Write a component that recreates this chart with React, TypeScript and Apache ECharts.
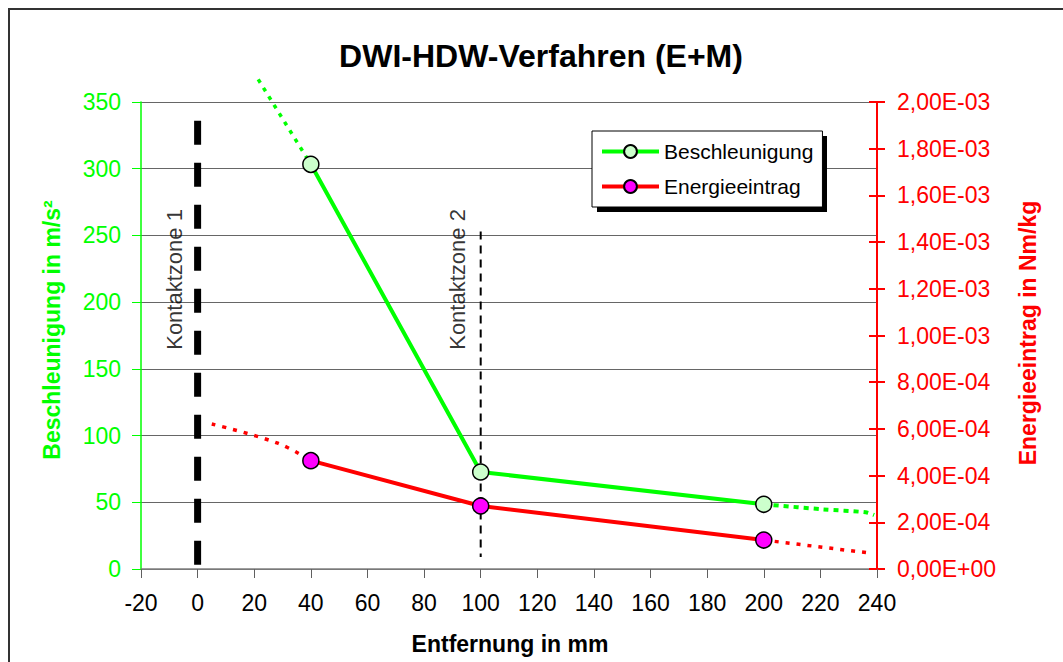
import React, { useEffect, useRef } from "react";
import * as echarts from "echarts";

const FONT = "'Liberation Sans', Arial, sans-serif";
const GREEN = "#00ff00";
const RED = "#ff0000";

// Messpunkte
const distance = [40, 100, 200];
const beschleunigung = [303.3, 72.7, 48.5];
const energieeintrag = [4.64e-4, 2.7e-4, 1.24e-4];

// Trendlinien (gepunktet)
const beschlTrendLeft: [number, number][] = [[21.4, 367], [40, 303.3]];
const beschlTrendRight: [number, number][] = [[200, 48.5], [221, 44.7], [236, 42.5], [239, 40.5]];
const energieTrendLeft: [number, number][] = [[5, 6.21e-4], [28, 5.4e-4], [40, 4.64e-4]];
const energieTrendRight: [number, number][] = [[200, 1.24e-4], [237, 0.69e-4]];

// Kontaktzonen
const kontaktzone1Line: [number, number][] = [[0, 336], [0, 0]];
const kontaktzone2Line: [number, number][] = [[100, 253], [100, 9]];
const kontaktLabels: [number, number, string][] = [[-8, 217, "Kontaktzone 1"], [91.7, 217, "Kontaktzone 2"]];

// Achsen
const xMin = -20, xMax = 240, xStep = 20;
const yMin = 0, yMax = 350, yStep = 50;
const y2Min = 0, y2Max = 0.002, y2Step = 0.0002;

const title = "DWI-HDW-Verfahren (E+M)";
const xTitle = "Entfernung in mm";
const yTitle = "Beschleunigung in m/s²";
const y2Title = "Energieeintrag in Nm/kg";

function fmtExp(v: number) {
  const s = Math.abs(v) < 1e-12 ? "0.00e+0" : v.toExponential(2);
  const [m, e] = s.split("e");
  const sign = e[0] === "-" ? "-" : "+";
  const num = e.replace(/^[+-]/, "").padStart(2, "0");
  return m.replace(".", ",") + "E" + sign + num;
}

export default function App() {
  const ref = useRef<HTMLDivElement>(null);
  useEffect(() => {
    if (!ref.current) return;
    const chart = echarts.init(ref.current, null, { renderer: "svg" });
    const tickFont = { fontFamily: FONT, fontSize: 23 };
    chart.setOption({
      animation: false,
      backgroundColor: "#fff",
      textStyle: { fontFamily: FONT },
      grid: { left: 141, right: 186, top: 102, bottom: 93, containLabel: false },
      legend: {
        data: ["Beschleunigung", "Energieeintrag"],
        orient: "vertical",
        left: 592,
        top: 131,
        itemWidth: 57,
        itemHeight: 16,
        itemGap: 14,
        padding: [10, 9, 10, 8],
        backgroundColor: "#fff",
        borderColor: "#000",
        borderWidth: 1,
        borderRadius: 0,
        lineStyle: { width: 4 },
        textStyle: { fontFamily: FONT, fontSize: 21, color: "#000" },
        z: 5,
      },
      xAxis: {
        type: "value",
        min: xMin,
        max: xMax,
        interval: xStep,
        axisLine: { show: true, onZero: false, lineStyle: { color: "#808080", width: 1.5 } },
        axisTick: { show: true, inside: false, length: 9, lineStyle: { color: "#606060" } },
        axisLabel: { ...tickFont, color: "#000", margin: 22 },
        splitLine: { show: false },
      },
      yAxis: [
        {
          type: "value",
          position: "left",
          min: yMin,
          max: yMax,
          interval: yStep,
          axisLine: { show: true, onZero: false, lineStyle: { color: GREEN, width: 1.5 } },
          axisTick: { show: true, inside: false, length: 9, lineStyle: { color: GREEN } },
          axisLabel: { ...tickFont, color: GREEN, margin: 20 },
          splitLine: { show: true, lineStyle: { color: "#666", width: 1.2 } },
        },
        {
          type: "value",
          position: "right",
          min: y2Min,
          max: y2Max,
          interval: y2Step,
          axisLine: { show: true, onZero: false, lineStyle: { color: RED, width: 2 } },
          axisTick: { show: true, inside: false, length: 8, lineStyle: { color: RED, width: 2 } },
          axisLabel: { ...tickFont, color: RED, margin: 20, formatter: (v: number) => fmtExp(v) },
          splitLine: { show: false },
        },
        {
          type: "value",
          position: "right",
          min: y2Min,
          max: y2Max,
          interval: y2Step,
          axisLine: { show: false, onZero: false },
          axisTick: { show: true, inside: true, length: 8, lineStyle: { color: RED, width: 2 } },
          axisLabel: { show: false },
          splitLine: { show: false },
        },
      ],
      series: [
        {
          name: "kz1",
          type: "line",
          data: kontaktzone1Line,
          symbol: "none",
          lineStyle: { color: "#000", width: 7, type: [24, 18] },
          z: 1,
        },
        {
          name: "kz2",
          type: "line",
          data: kontaktzone2Line,
          symbol: "none",
          lineStyle: { color: "#000", width: 2, type: [8, 6] },
          z: 1,
        },
        {
          name: "kzLabels",
          type: "scatter",
          data: kontaktLabels,
          symbolSize: 0,
          label: {
            show: true,
            position: "inside",
            rotate: 90,
            formatter: (p: any) => p.data[2],
            fontFamily: FONT,
            fontSize: 22,
            color: "#000",
          },
          z: 1,
        },
        {
          name: "bTrendL",
          type: "line",
          data: beschlTrendLeft,
          symbol: "none",
          clip: false,
          lineStyle: { color: GREEN, width: 3.5, type: [4, 6] },
          z: 2,
        },
        {
          name: "bTrendR",
          type: "line",
          data: beschlTrendRight,
          symbol: "none",
          smooth: 0.3,
          lineStyle: { color: GREEN, width: 4, type: [5, 5] },
          z: 2,
        },
        {
          name: "eTrendL",
          type: "line",
          yAxisIndex: 1,
          data: energieTrendLeft,
          symbol: "none",
          smooth: 0.4,
          lineStyle: { color: RED, width: 3.5, type: [4, 7] },
          z: 2,
        },
        {
          name: "eTrendR",
          type: "line",
          yAxisIndex: 1,
          data: energieTrendRight,
          symbol: "none",
          lineStyle: { color: RED, width: 3.5, type: [4, 7] },
          z: 2,
        },
        {
          name: "Beschleunigung",
          type: "line",
          data: distance.map((d, i) => [d, beschleunigung[i]]),
          symbol: "circle",
          symbolSize: 16,
          lineStyle: { color: GREEN, width: 4 },
          itemStyle: { color: "#ccffcc", borderColor: "#000", borderWidth: 1.5 },
          z: 3,
        },
        {
          name: "Energieeintrag",
          type: "line",
          yAxisIndex: 1,
          data: distance.map((d, i) => [d, energieeintrag[i]]),
          symbol: "circle",
          symbolSize: 16,
          lineStyle: { color: RED, width: 4 },
          itemStyle: { color: "#ff00ff", borderColor: "#000", borderWidth: 1.5 },
          z: 3,
        },
      ],
      graphic: [
        {
          type: "rect",
          shape: { x: 9, y: 9, width: 1100, height: 700 },
          style: { fill: "none", stroke: "#333", lineWidth: 2 },
          z: 0,
          silent: true,
        },
        {
          type: "rect",
          shape: { x: 597, y: 136, width: 230, height: 76 },
          style: { fill: "#000" },
          z: 4,
          silent: true,
        },
        {
          type: "text",
          x: 541,
          y: 56,
          style: {
            text: title,
            fontFamily: FONT,
            fontSize: 32,
            fontWeight: "bold",
            fill: "#000",
            align: "center",
            verticalAlign: "middle",
          },
        },
        {
          type: "text",
          x: 510,
          y: 644,
          style: {
            text: xTitle,
            fontFamily: FONT,
            fontSize: 23,
            fontWeight: "bold",
            fill: "#000",
            align: "center",
            verticalAlign: "middle",
          },
        },
        {
          type: "text",
          x: 52,
          y: 330,
          rotation: Math.PI / 2,
          style: {
            text: yTitle,
            fontFamily: FONT,
            fontSize: 23,
            fontWeight: "bold",
            fill: GREEN,
            align: "center",
            verticalAlign: "middle",
          },
        },
        {
          type: "text",
          x: 1028,
          y: 333,
          rotation: Math.PI / 2,
          style: {
            text: y2Title,
            fontFamily: FONT,
            fontSize: 23,
            fontWeight: "bold",
            fill: RED,
            align: "center",
            verticalAlign: "middle",
          },
        },
      ],
    });
    return () => chart.dispose();
  }, []);
  return (
    <div
      ref={ref}
      style={{ position: "absolute", left: 0, top: 0, width: 1063, height: 662 }}
    />
  );
}
